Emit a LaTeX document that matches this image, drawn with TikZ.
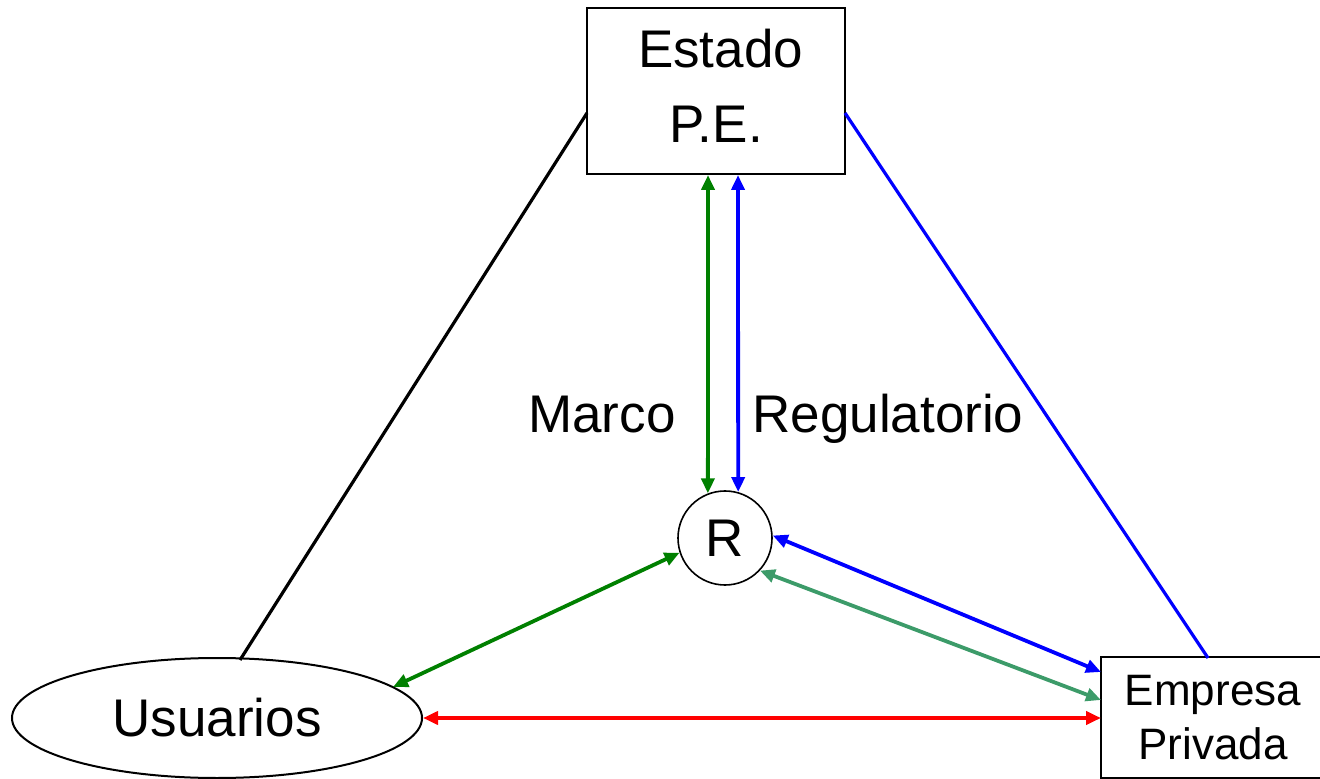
\documentclass[tikz,border=0pt]{standalone}
\usepackage{fontspec}
\setmainfont{Liberation Sans}
\usetikzlibrary{arrows.meta,shapes.geometric}
\definecolor{dgreen}{RGB}{0,128,0}
\definecolor{sgreen}{RGB}{60,155,105}
\begin{document}
\begin{tikzpicture}[x=0.5pt,y=-0.5pt,
  big/.style={font=\fontsize{26.5}{36.5}\selectfont},
  conn/.style={line width=1.9pt,{Triangle[length=7.5pt,width=6.5pt]}-{Triangle[length=7.5pt,width=6.5pt]}},
  plain/.style={line width=1.6pt}]
\useasboundingbox (0,0) rectangle (1320,779);
\node[draw,line width=1pt,minimum width=129pt,minimum height=83pt,inner sep=0pt] (estado) at (716,91) {};
\node[anchor=base,big,inner sep=0pt] (estadot) at (720.5,68) {Estado};
\node[anchor=base,big,inner sep=0pt] (pet) at (716,143) {P.E.};
\node[draw,circle,line width=0.8pt,minimum size=47pt,inner sep=0pt,big] (r) at (725,538) {R};
\node[draw,ellipse,line width=1pt,minimum width=205pt,minimum height=60pt,inner sep=0pt,big] (usu) at (217,718) {Usuarios};
\node[draw,line width=1pt,minimum width=112pt,minimum height=60.5pt,inner sep=0pt,align=center,font=\fontsize{22}{27}\selectfont] (emp) at (1213,717.5) {Empresa\\Privada};
\node[anchor=base east,big,inner sep=0pt] (marco) at (676,433) {Marco};
\node[anchor=base west,big,inner sep=0pt] (regul) at (752,433) {Regulatorio};
\coordinate (gx) at (708,0);
\coordinate (bx) at (738,0);
\coordinate (el) at (587,113);
\coordinate (er) at (845,113);
\coordinate (ua) at (240,660);
\coordinate (eb) at (1208,658);
\coordinate (ug) at (393,687);
\coordinate (eb1) at (1101,672);
\coordinate (eg1) at (1101,700);
\coordinate (er1) at (1101,718);
\draw[plain] (el) -- (ua);
\draw[plain,blue] (er) -- (eb);
\draw[conn,dgreen] (estado.south -| gx) -- (r.111);
\draw[conn,blue] (estado.south -| bx) -- (r.74);
\draw[conn,dgreen] (ug) -- (r.198);
\draw[conn,blue] (r.3) -- (eb1);
\draw[conn,sgreen] (r.-43) -- (eg1);
\draw[conn,red] (usu.east) -- (er1);
\end{tikzpicture}
\end{document}
